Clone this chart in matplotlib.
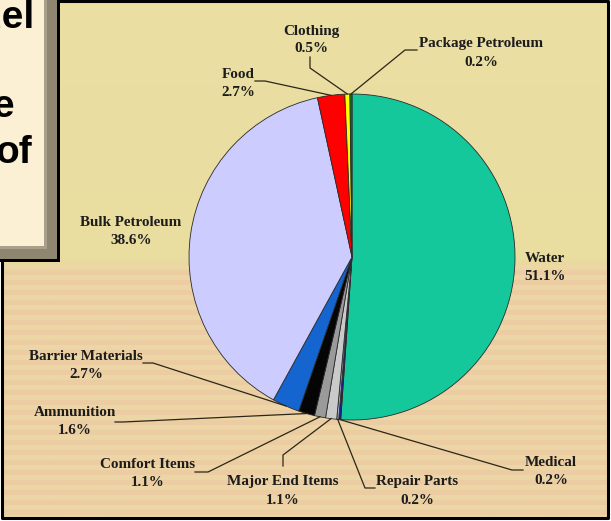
import numpy as np
import matplotlib
matplotlib.use('Agg')
import matplotlib.pyplot as plt
from matplotlib.patches import Rectangle

# supply classes, clockwise from 12 o'clock
categories = ['Water', 'Medical', 'Repair Parts', 'Major End Items', 'Comfort Items',
              'Ammunition', 'Barrier Materials', 'Bulk Petroleum', 'Food', 'Clothing',
              'Package Petroleum']
shares = [51.1, 0.2, 0.2, 1.1, 1.1, 1.6, 2.7, 38.6, 2.7, 0.5, 0.2]
colors = ['#14c89c', '#1c1ca8', '#a9b3c9', '#cacaca', '#9a9a9a', '#050505',
          '#1565d0', '#ccccff', '#ff0000', '#ffff00', '#008a00']

# label layout in pixels: text centre, leader knee (text side -> pie side)
label_pos = {
    'Water': ((545, 267), None),
    'Medical': ((551, 472), [(523, 470), (512, 470)]),
    'Repair Parts': ((417, 491), [(375, 488), (365, 488)]),
    'Major End Items': ((283, 491), [(283, 466), (283, 455)]),
    'Comfort Items': ((148, 474), [(195, 472), (208, 472)]),
    'Ammunition': ((75, 422), [(115, 422), (123, 422)]),
    'Barrier Materials': ((86, 365), [(143, 363), (153, 363)]),
    'Bulk Petroleum': ((131, 232), None),
    'Food': ((238, 83), [(255, 81), (265, 81)]),
    'Clothing': ((311, 40), [(310, 57), (310, 68)]),
    'Package Petroleum': ((481, 53), [(417, 50), (405, 50)]),
}

W, H = 611, 521
cx, cy, r = 352, 257, 163

fig = plt.figure(figsize=(W / 100, H / 100), dpi=100)
ax = fig.add_axes([0, 0, 1, 1])

# backdrop: yellow top, faintly striped peach bottom
top = np.array([233, 221, 160]) / 255
peach = np.array([236, 205, 163]) / 255
pale = np.array([237, 214, 166]) / 255
rows = []
for y in range(1, 518):
    if y < 258:
        c = top + (np.array([236, 224, 168]) / 255 - top) * (1 - y / 258) * 0.5
    else:
        stripe = peach if (y // 5) % 2 == 0 else pale
        t = min(1.0, (y - 258) / 14)
        c = top * (1 - t) + stripe * t
    rows.append(c)
bg = np.array(rows)[:, None, :]
ax.imshow(bg, extent=(2, 608, 518, 1), origin='upper', aspect='auto',
          interpolation='bilinear', zorder=0)

# frame
ax.plot([2, 608, 608, 2, 2], [1, 1, 518, 518, 1], color='black', lw=2.2, zorder=1)

wedges, _ = ax.pie(shares, colors=colors, startangle=270, counterclock=True,
                   center=(cx, cy), radius=r,
                   wedgeprops=dict(edgecolor='#2a2a2a', linewidth=0.6))
for w in wedges:
    w.set_zorder(2)

for name, share, w in zip(categories, shares, wedges):
    (tx, ty), knee = label_pos[name]
    ax.text(tx, ty, f'{name}\n{share:.1f}%', ha='center', va='center',
            family='Liberation Serif', fontweight='bold', fontsize=10.9,
            color='#1c1c1c', linespacing=1.5, zorder=4)
    if knee:
        th = np.deg2rad((w.theta1 + w.theta2) / 2)
        ax_, ay_ = cx + r * np.cos(th), cy + r * np.sin(th)
        xs = [p[0] for p in knee] + [ax_]
        ys = [p[1] for p in knee] + [ay_]
        ax.plot(xs, ys, color='#2b2618', lw=0.9, zorder=3)

# overlapping slide box, top left (its text is cut at the edge, as in the source)
ax.add_patch(Rectangle((-2, -2), 62, 264, facecolor='black', lw=0, zorder=5))
ax.add_patch(Rectangle((-2, -2), 59, 261, facecolor='#8e8670', lw=0, zorder=5))
ax.add_patch(Rectangle((-2, -2), 49, 251, facecolor='#a8a08a', lw=0, zorder=5))
ax.add_patch(Rectangle((-2, -2), 46, 248, facecolor='#fcf0d4', lw=0, zorder=5))
for txt, x, y in [('uel', 35, 28), ('e', 14, 117), ('of', 32, 163)]:
    ax.text(x, y, txt, ha='right', va='baseline', family='Liberation Sans',
            fontweight='bold', fontsize=28, color='black', zorder=6)

ax.set_xlim(0, W)
ax.set_ylim(H, 0)
ax.set_aspect('auto')
ax.axis('off')
fig.savefig('out.png', dpi=100, facecolor='white')
